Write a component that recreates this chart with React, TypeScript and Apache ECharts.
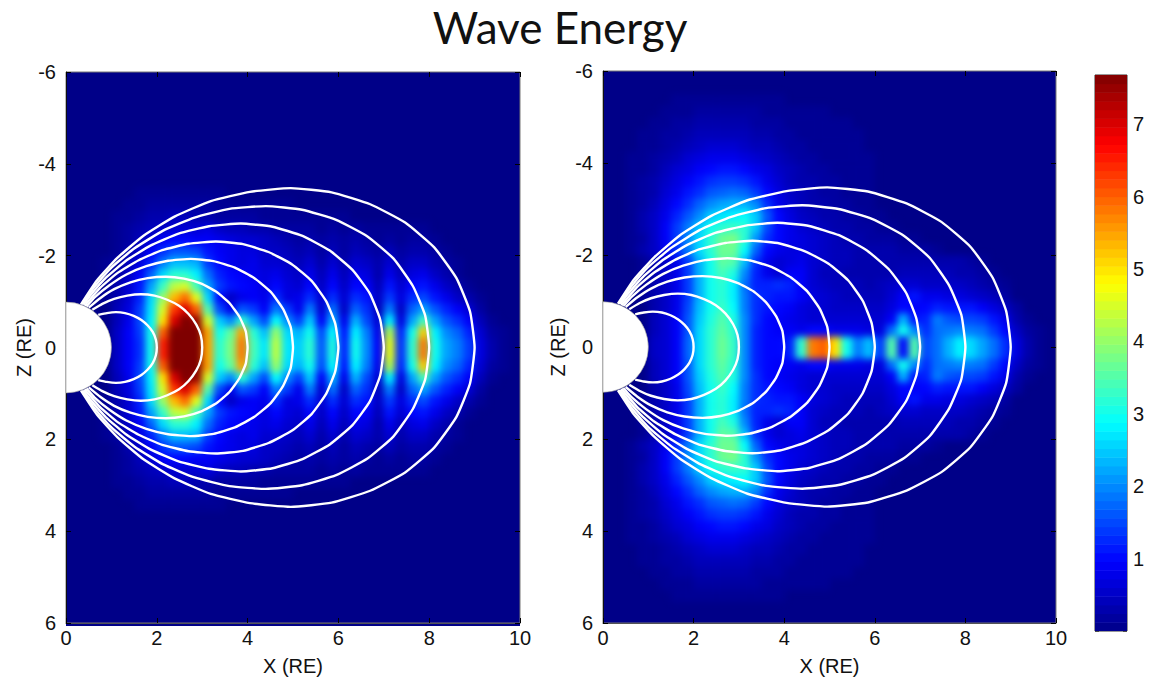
import React, { useEffect, useRef } from "react";
import * as echarts from "echarts";

const title = "Wave Energy";
const xTitle = "X (RE)";
const zTitle = "Z (RE)";

// Cell size of the read-off energy grid, in RE. Columns start at x = 0, rows at |z| = 0.
const cellSize = 0.25;

// Energy, one row per 0.25 RE of |z| (the panel is mirrored about z = 0).
const leftEnergyRows = [
  [0,0,0,0,.5,.9,1.3,3,6.5,7.7,7.7,7.7,5.5,3.2,3.8,5.8,3.4,2.7,4.3,2.7,2.5,3.2,1.6,3.1,1.2,3,2,.9,4.6,1.3,3.2,5.8,3,2.2,1.9,1.4,.7,.3,.1],
  [0,0,0,0,.5,.9,1.4,3,6,7.7,7.7,7.7,5.5,3,3.6,5.5,3.2,2.4,4,2.6,2.3,3,1.5,2.9,1.1,2.8,1.9,.8,4.2,1.2,3,5.2,2.8,2,1.7,1.2,.6,.2,.1],
  [0,0,0,0,.4,.8,1.5,2.8,5,7,7.7,7.5,4.5,2.5,2,3.2,2.2,1.5,2.9,2,1.4,2.5,.9,2.3,.8,2.3,1.5,.6,2.8,.7,2.2,3.4,2.2,1.6,1.3,.9,.4,.1],
  [0,0,0,0,.4,.7,1.4,2.7,4.5,6.3,7,6,3.5,1.5,.8,1.6,1.4,.9,1.9,1.4,.8,1.9,.6,1.8,.5,1.7,1.3,.4,1.9,.5,1.7,2.2,1.6,1.2,.9,.6,.2],
  [0,0,0,.1,.3,.6,1.2,2.6,4,5.3,5.9,4.6,2.6,1,.5,.8,.9,.8,1.3,.7,.8,1.3,.6,1.3,.6,1.3,1.1,.5,1.4,.7,1.3,1.5,1.1,.8,.5,.3,.1],
  [0,0,0,.1,.3,.6,1.1,2.2,3.3,4.3,4.5,3.4,2.2,1.4,1.1,1,.9,.7,1,.7,.6,1,.5,1,.5,1,.9,.4,1.1,.6,1,1.1,.8,.5,.3,.1],
  [0,0,0,.1,.2,.5,.9,1.7,2.6,3.2,3.2,2.8,1.8,1.2,1,.9,.8,.7,.8,.6,.5,.8,.4,.8,.4,.8,.7,.3,.8,.4,.7,.8,.5,.3,.1],
  [0,0,0,.1,.2,.4,.7,1.2,1.9,2.4,2.4,2.3,1.4,1,.8,.7,.8,.6,.6,.5,.4,.6,.3,.6,.3,.6,.5,.3,.6,.3,.5,.5,.3,.2,.1],
  [0,0,0,0,.1,.3,.5,.9,1.3,1.6,1.6,1.5,1.1,.9,.8,.7,.7,.5,.5,.4,.3,.4,.2,.4,.2,.4,.3,.2,.4,.2,.3,.3,.2,.1],
  [0,0,0,0,.1,.2,.4,.6,.9,1,1,.9,.9,.8,.7,.6,.6,.5,.4,.3,.2,.3,.2,.3,.2,.3,.2,.1,.2,.1,.2,.2,.1],
  [0,0,0,0,.1,.2,.3,.4,.5,.6,.6,.6,.7,.5,.4,.4,.3,.3,.2,.2,.2,.2,.1,.2,.1,.2,.1,.1,.1,.1,.1,.1],
  [0,0,0,0,.1,.1,.2,.3,.3,.4,.4,.3,.3,.2,.2,.2,.2,.1,.1,.1,.1,.1,.1,.1,.1],
  [0,0,0,0,0,.1,.1,.2,.2,.2,.2,.2,.2,.1,.1,.1,.1,.1,.1,.1],
  [0,0,0,0,0,0,.1,.1,.1,.1,.1,.1,.1,.1],
];

// Energy, same layout.
const rightEnergyRows = [
  [0,0,0,0,.5,.6,.9,1.7,2.6,3.2,3.7,3.3,2,1.2,1,1,1.2,3.2,5.8,6,5,3,1.9,2.4,1.4,3.5,1,3.5,1.5,1.8,2.3,2.8,2.6,2.2,1.8,1.3,.7,.3,.1],
  [0,0,0,0,.4,.6,.9,1.6,2.6,3.2,3.6,3.2,2,1.2,1,.9,.9,.8,1,1,.8,.8,.8,.7,.7,1.8,3,2,1.3,1.8,1.9,2,1.9,1.8,1.4,1,.5,.2,.1],
  [0,0,0,0,.4,.6,.9,1.6,2.5,3.1,3.5,3.1,2,1.3,1,.9,.8,.7,.6,.6,.6,.6,.6,.6,.6,.9,2.3,1.1,1.2,1.9,1.6,1.5,1.5,1.4,1.1,.8,.3,.1],
  [0,0,0,0,.3,.5,.8,1.5,2.4,3,3.3,2.9,1.9,1.3,1.1,1,.9,.7,.6,.6,.5,.5,.5,.5,.5,.7,1,.9,1,1.2,1.1,1.1,1.1,.9,.7,.5,.2],
  [0,0,0,.1,.3,.5,.8,1.4,2.3,3,3.2,2.8,1.9,1.3,1.2,1.1,1.1,.9,.7,.6,.5,.4,.4,.4,.4,.6,.9,1.1,.8,.8,.7,.7,.6,.5,.4,.2],
  [0,0,0,.1,.3,.5,.8,1.4,2.3,3,3.2,2.8,1.8,1.2,1.2,1.3,1.2,.9,.6,.5,.4,.4,.4,.3,.4,.5,.6,.6,.5,.5,.5,.5,.4,.3,.2,.1],
  [0,0,0,.1,.3,.5,.8,1.4,2.3,3,3.4,3.1,2,1.2,.8,.6,.9,.9,.6,.4,.4,.3,.3,.3,.3,.3,.4,.4,.4,.4,.4,.3,.3,.2,.1],
  [0,0,0,.1,.3,.5,.8,1.4,2.3,3,3.6,3.5,2.4,1.3,.8,.6,.7,.8,.6,.5,.4,.4,.3,.3,.3,.3,.3,.3,.3,.3,.3,.3,.2,.1],
  [0,0,.1,.3,.5,.8,1.3,1.9,2.6,3.2,3.7,3.7,2.9,1.7,1,.8,.7,.7,.6,.5,.4,.4,.3,.3,.3,.3,.2,.2,.2,.1],
  [0,0,.1,.2,.5,.9,1.4,2,2.6,3.2,3.7,3.8,3.2,2.1,1.3,1,.8,.7,.6,.5,.4,.3,.3,.2,.2,.2,.1,.1],
  [0,0,.1,.3,.5,.9,1.4,1.9,2.5,3,3.2,3.3,3.2,2.5,1.5,1,.8,.6,.5,.4,.3,.3,.2,.2,.1,.1],
  [0,0,.1,.3,.5,.8,1.2,1.6,2,2.5,2.7,2.8,2.9,2.5,1.6,1,.7,.5,.4,.3,.3,.2,.2,.1,.1],
  [0,0,.1,.2,.4,.7,1,1.3,1.7,2,2.2,2.3,2.3,2,1.3,.8,.6,.4,.3,.3,.2,.2,.1,.1],
  [0,0,.1,.2,.3,.6,.8,1.1,1.3,1.6,1.7,1.8,1.7,1.4,1,.7,.5,.4,.3,.2,.2,.1,.1,.1],
  [0,0,.1,.2,.3,.5,.7,.9,1.1,1.3,1.4,1.4,1.3,1.1,.8,.6,.4,.3,.3,.2,.2,.1,.1,.1],
  [0,0,.1,.1,.2,.4,.6,.7,.9,1,1.1,1.1,1,.8,.7,.5,.4,.3,.2,.2,.1,.1,.1,.1],
  [0,0,.1,.1,.2,.3,.4,.6,.7,.8,.8,.8,.7,.6,.5,.4,.3,.2,.2,.1,.1,.1,.1,.1],
  [0,0,0,.1,.1,.2,.3,.4,.5,.6,.6,.6,.5,.4,.4,.3,.2,.2,.1,.1,.1,.1,.1],
  [0,0,0,.1,.1,.2,.2,.3,.4,.4,.4,.4,.4,.3,.3,.2,.2,.1,.1,.1,.1,.1,.1],
  [0,0,0,0,.1,.1,.2,.2,.3,.3,.3,.3,.3,.2,.2,.2,.1,.1,.1,.1,.1,.1],
  [0,0,0,0,0,.1,.1,.1,.2,.2,.2,.2,.2,.2,.1,.1,.1,.1,.1,.1],
  [0,0,0,0,0,0,.1,.1,.1,.1,.1,.1,.1,.1,.1,.1],
];

// Upper half of each white field line as [x, |z|].
const fieldLines = [
  [[2,0],[1.98,.17],[1.91,.34],[1.8,.48],[1.66,.6],[1.49,.69],[1.3,.75],[1.1,.77],[.9,.75],[.71,.71]],
  [[3,0],[2.97,.26],[2.87,.5],[2.7,.73],[2.49,.91],[2.23,1.04],[1.95,1.13],[1.65,1.16],[1.35,1.13],[1.06,1.06],[.8,.95],[.58,.82]],
  [[4,0],[3.96,.35],[3.82,.67],[3.6,.97],[3.32,1.21],[2.98,1.39],[2.6,1.5],[2.2,1.54],[1.8,1.51],[1.42,1.42],[1.06,1.27],[.76,1.08],[.5,.87]],
  [[5,0],[4.95,.44],[4.78,.84],[4.51,1.21],[4.15,1.51],[3.72,1.74],[3.25,1.88],[2.75,1.93],[2.25,1.89],[1.77,1.77],[1.33,1.59],[.95,1.35],[.63,1.09],[.45,.89]],
  [[6,0],[5.93,.52],[5.73,1.01],[5.41,1.45],[4.98,1.81],[4.46,2.08],[3.9,2.25],[3.3,2.31],[2.7,2.26],[2.12,2.12],[1.6,1.9],[1.13,1.62],[.75,1.3],[.46,.97],[.41,.91]],
  [[7,0],[6.92,.61],[6.69,1.18],[6.31,1.69],[5.81,2.11],[5.21,2.43],[4.55,2.63],[3.85,2.7],[3.15,2.64],[2.48,2.48],[1.86,2.22],[1.32,1.89],[.88,1.52],[.53,1.13],[.38,.93]],
  [[8,0],[7.91,.7],[7.64,1.34],[7.21,1.94],[6.64,2.42],[5.95,2.78],[5.2,3],[4.4,3.08],[3.6,3.02],[2.83,2.83],[2.13,2.54],[1.51,2.16],[1,1.74],[.61,1.3],[.35,.94]],
  [[9,0],[8.9,.78],[8.6,1.51],[8.11,2.18],[7.47,2.72],[6.7,3.12],[5.85,3.38],[4.95,3.47],[4.05,3.39],[3.19,3.19],[2.39,2.85],[1.7,2.43],[1.13,1.95],[.68,1.46],[.33,.94]],
];

const colorbarLevels = [
  .06,.18,.3,.42,.54,.66,.78,.9,1.02,1.14,1.26,1.38,1.5,1.62,1.74,1.86,
  1.98,2.1,2.22,2.34,2.46,2.58,2.7,2.82,2.94,3.06,3.18,3.3,3.42,3.54,3.66,3.78,
  3.9,4.02,4.14,4.26,4.38,4.5,4.62,4.74,4.86,4.98,5.1,5.22,5.34,5.46,5.58,5.7,
  5.82,5.94,6.06,6.18,6.3,6.42,6.54,6.66,6.78,6.9,7.02,7.14,7.26,7.38,7.5,7.62,
];
const colorbarStep = 0.12;
const energyMax = 7.68;
const jet = ["#000088","#0000ff","#007fff","#00ffff","#7fff7f","#ffff00","#ff7f00","#ff0000","#7f0000"];

const panels = [
  { left: 66, top: 72, width: 454, height: 554, nameGap: 29, rows: leftEnergyRows },
  { left: 603, top: 71, width: 453, height: 553, nameGap: 35, rows: rightEnergyRows },
];
const bar = { left: 1095, top: 75, width: 32, height: 556 };

const fontFamily = "'Liberation Sans', Arial, sans-serif";
const labelStyle = { fontFamily, fontSize: 20, color: "#111" };

function cells(rows: number[][]) {
  const out: number[][] = [];
  rows.forEach((row, r) => {
    const z = (r + 0.5) * cellSize;
    row.forEach((v, c) => {
      if (v > 0) {
        const x = (c + 0.5) * cellSize;
        out.push([x, -z, v], [x, z, v]);
      }
    });
  });
  return out;
}

function renderCell(_: any, api: any) {
  const x = api.value(0);
  const z = api.value(1);
  const a = api.coord([x - cellSize / 2, z - cellSize / 2]);
  const b = api.coord([x + cellSize / 2, z + cellSize / 2]);
  return {
    type: "rect",
    shape: { x: a[0], y: a[1], width: b[0] - a[0] + 0.6, height: b[1] - a[1] + 0.6 },
    style: { fill: api.visual("color") },
  };
}

function renderBand(_: any, api: any) {
  const v = api.value(1);
  const a = api.coord([0, v + colorbarStep / 2]);
  const b = api.coord([1, v - colorbarStep / 2]);
  return {
    type: "rect",
    shape: { x: a[0], y: a[1], width: b[0] - a[0], height: b[1] - a[1] + 0.5 },
    style: { fill: api.visual("color") },
  };
}

function renderEarth(_: any, api: any) {
  const c = api.coord([0, 0]);
  const r = api.size([1, 1])[0];
  return {
    type: "sector",
    shape: { cx: c[0], cy: c[1], r0: 0, r, startAngle: -Math.PI / 2, endAngle: Math.PI / 2 },
    style: { fill: "#ffffff", stroke: "#999999", lineWidth: 0.6 },
  };
}

const visual = (dimension: number) => ({
  type: "continuous",
  show: false,
  min: 0,
  max: energyMax,
  dimension,
  inRange: { color: jet },
});

const heatOption = () => ({
  animation: false,
  grid: panels.map((p) => ({ left: p.left, top: p.top, width: p.width, height: p.height })),
  xAxis: panels.map((_, i) => ({ type: "value", gridIndex: i, min: 0, max: 10, show: false })),
  yAxis: panels.map((_, i) => ({ type: "value", gridIndex: i, min: -6, max: 6, inverse: true, show: false })),
  visualMap: visual(2),
  series: panels.map((p, i) => ({
    type: "custom",
    xAxisIndex: i,
    yAxisIndex: i,
    renderItem: renderCell,
    data: cells(p.rows),
    silent: true,
    clip: false,
  })),
});

const overlayOption = () => {
  const grid: any[] = [];
  const xAxis: any[] = [];
  const yAxis: any[] = [];
  const series: any[] = [];
  const tick = { show: true, inside: true, length: 5, lineStyle: { color: "#000", width: 1 } };
  panels.forEach((p, i) => {
    grid.push({
      left: p.left, top: p.top, width: p.width, height: p.height,
      show: true, borderColor: "#777", borderWidth: 1, backgroundColor: "transparent",
    });
    const x0 = xAxis.length;
    const y0 = yAxis.length;
    xAxis.push(
      {
        type: "value", gridIndex: i, position: "bottom", min: 0, max: 10, interval: 2,
        name: xTitle, nameLocation: "middle", nameGap: 33,
        nameTextStyle: labelStyle, axisLabel: { ...labelStyle, margin: 5 },
        axisLine: { onZero: false, lineStyle: { color: "#555", width: 1 } }, axisTick: tick, splitLine: { show: false },
      },
      {
        type: "value", gridIndex: i, position: "top", min: 0, max: 10, interval: 2,
        axisLabel: { show: false }, axisLine: { show: false, onZero: false }, axisTick: tick, splitLine: { show: false },
      },
    );
    yAxis.push(
      {
        type: "value", gridIndex: i, position: "left", min: -6, max: 6, interval: 2, inverse: true,
        name: zTitle, nameLocation: "middle", nameGap: p.nameGap, nameRotate: 90,
        nameTextStyle: labelStyle, axisLabel: { ...labelStyle, margin: 10 },
        axisLine: { onZero: false, lineStyle: { color: "#111", width: 1 } }, axisTick: tick, splitLine: { show: false },
      },
      {
        type: "value", gridIndex: i, position: "right", min: -6, max: 6, interval: 2, inverse: true,
        axisLabel: { show: false }, axisLine: { show: false, onZero: false }, axisTick: tick, splitLine: { show: false },
      },
    );
    fieldLines.forEach((line) => {
      const lower = line.slice(1).map(([x, z]) => [x, z]);
      const upper = line.slice(1).map(([x, z]) => [x, -z]).reverse();
      series.push({
        type: "line", xAxisIndex: x0, yAxisIndex: y0, data: [...upper, ...line.slice(0, 1), ...lower],
        smooth: 0.15, symbol: "none", silent: true, z: 3,
        lineStyle: { color: "#ffffff", width: 2.4 },
      });
    });
    series.push({
      type: "custom", xAxisIndex: x0, yAxisIndex: y0, renderItem: renderEarth,
      data: [[0, 0]], silent: true, clip: false, z: 4,
    });
  });

  grid.push({ left: bar.left, top: bar.top, width: bar.width, height: bar.height, show: true, borderColor: "#333", borderWidth: 1 });
  const barGrid = panels.length;
  const bx = xAxis.length;
  const by = yAxis.length;
  xAxis.push({ type: "value", gridIndex: barGrid, min: 0, max: 1, show: false });
  const barTick = { show: true, inside: true, length: 4, lineStyle: { color: "#000", width: 1, opacity: 0.5 } };
  yAxis.push(
    {
      type: "value", gridIndex: barGrid, position: "right", min: 0, max: energyMax, interval: 1,
      axisLabel: { ...labelStyle, margin: 6, formatter: (v: number) => (Number.isInteger(v) && v > 0 ? String(v) : "") },
      axisLine: { show: false, onZero: false }, axisTick: barTick, splitLine: { show: false },
    },
    {
      type: "value", gridIndex: barGrid, position: "left", min: 0, max: energyMax, interval: 1,
      axisLabel: { show: false }, axisLine: { show: false, onZero: false }, axisTick: barTick, splitLine: { show: false },
    },
  );
  series.push({
    type: "custom", xAxisIndex: bx, yAxisIndex: by, renderItem: renderBand,
    data: colorbarLevels.map((v) => [0.5, v]), silent: true, clip: true, encode: { x: 0, y: 1 }, z: 2,
  });

  return {
    animation: false,
    backgroundColor: "transparent",
    title: {
      text: title, left: 555, top: 0, textAlign: "center",
      textStyle: { fontFamily: "Lato, 'Open Sans', sans-serif", fontWeight: "normal", fontSize: 44, color: "#111" },
    },
    grid, xAxis, yAxis,
    visualMap: { ...visual(1), seriesIndex: series.length - 1 },
    series,
  };
};

export default function App() {
  const heatRef = useRef<HTMLDivElement>(null);
  const overlayRef = useRef<HTMLDivElement>(null);
  useEffect(() => {
    const heat = echarts.init(heatRef.current!, undefined, { renderer: "svg" });
    const overlay = echarts.init(overlayRef.current!, undefined, { renderer: "svg" });
    heat.setOption(heatOption() as any);
    overlay.setOption(overlayOption() as any);
    return () => {
      heat.dispose();
      overlay.dispose();
    };
  }, []);
  const frame: React.CSSProperties = { position: "absolute", left: 0, top: 0, width: 1150, height: 681 };
  const clip = panels
    .map((p) => `M${p.left} ${p.top}H${p.left + p.width}V${p.top + p.height}H${p.left}Z`)
    .join(" ");
  return (
    <div style={{ position: "fixed", left: 0, top: 0, width: 1150, height: 681, background: "#fff", overflow: "hidden" }}>
      <div style={{ ...frame, background: jet[0], clipPath: `path("${clip}")` }}>
        <div ref={heatRef} style={{ ...frame, filter: "blur(3.5px)" }} />
      </div>
      <div ref={overlayRef} style={frame} />
    </div>
  );
}
